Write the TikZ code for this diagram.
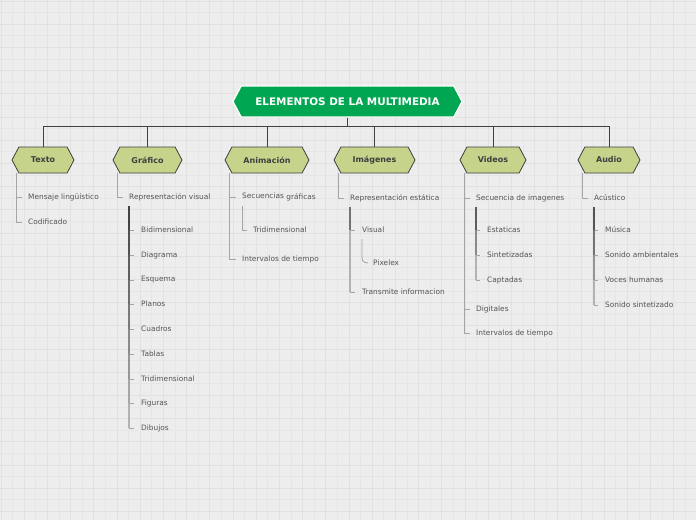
\documentclass[tikz,border=0pt]{standalone}
\usepackage{fontspec}
\setmainfont{DejaVu Sans}
\usetikzlibrary{shapes.symbols,calc}
\definecolor{bgcol}{RGB}{237,237,237}
\definecolor{minorcol}{RGB}{230,230,230}
\definecolor{majorcol}{RGB}{225,225,225}
\definecolor{rootcol}{RGB}{0,166,81}
\definecolor{leafcol}{RGB}{197,211,139}
\definecolor{edgecol}{RGB}{63,63,63}
\definecolor{labcol}{RGB}{85,85,85}
\definecolor{thincol}{RGB}{165,165,165}

% vertical bar of a sub list, fading downwards
\newcommand{\sublist}[3]{%
  \coordinate (#1top) at ($(#1.west)+(0,9)$);
  \foreach \lab [count=\k, remember=\lab as \prev (initially #1top)] in {#3}{
    \pgfmathtruncatemacro\tone{80-50*\k/#2}
    \draw[l2,draw=black!\tone] (#1top |- \prev) -- (#1top |- \lab.west);
    \draw[l1] (#1top |- \lab.west) -- ($(\lab.west)+(-7,0)$);
  }}

\begin{document}
\begin{tikzpicture}[x=1pt,y=-1pt,
  hexa/.style={shape=signal,signal to=east and west,signal pointer angle=124,
    inner sep=0pt,align=center},
  root/.style={hexa,fill=rootcol,draw=white,line width=1.2pt,text=white,
    font=\fontsize{10.4}{12}\bfseries,minimum width=229,minimum height=31},
  topic/.style={hexa,fill=leafcol,draw=edgecol,line width=0.8pt,text=edgecol,
    font=\fontsize{8}{10}\bfseries,minimum height=26},
  item/.style={anchor=west,inner sep=0pt,text=labcol,font=\fontsize{7.4}{9}\selectfont},
  rl/.style={draw=edgecol,line width=0.9pt},
  l1/.style={draw=thincol,line width=0.8pt},
  l2/.style={line width=1.4pt}]

\useasboundingbox (0,0) rectangle (696,520);

% background grid
\fill[bgcol] (0,0) rectangle (696,520);
\foreach \i in {0,...,59}{
  \pgfmathtruncatemacro\odd{mod(\i,2)}
  \ifnum\odd=0 \def\gc{majorcol}\else\def\gc{minorcol}\fi
  \draw[\gc,line width=0.9pt] (1+11.6*\i,0) -- (1+11.6*\i,520);
}
\foreach \j in {0,...,44}{
  \pgfmathtruncatemacro\odd{mod(\j,2)}
  \ifnum\odd=0 \def\gc{majorcol}\else\def\gc{minorcol}\fi
  \draw[\gc,line width=0.9pt] (0,1+11.6*\j) -- (696,1+11.6*\j);
}

% root and topics
\node[root] (root) at (347.5,101.5) {ELEMENTOS DE LA MULTIMEDIA};
\node[topic,minimum width=62] (texto) at (43,160) {Texto};
\node[topic,minimum width=69] (graf) at (147.5,160) {Gráfico};
\node[topic,minimum width=84] (anim) at (267,160) {Animación};
\node[topic,minimum width=81] (imag) at (374.5,160) {Imágenes};
\node[topic,minimum width=66] (vid) at (493,160) {Videos};
\node[topic,minimum width=62] (aud) at (609,160) {Audio};

\draw[rl] (root.south) -- ($(root.south)+(0,9)$) coordinate (hub);
\foreach \t in {texto,graf,anim,imag,vid,aud}
  \draw[rl] (hub) -| (\t.north);

% Texto
\node[item] (msj) at (28,197) {Mensaje lingüístico};
\node[item] (cod) at (28,222) {Codificado};
% Grafico
\node[item] (rv) at (129,197) {Representación visual};
\node[item] (bid) at (141,230) {Bidimensional};
\node[item] (dia) at (141,255) {Diagrama};
\node[item] (esq) at (141,280) {Esquema};
\node[item] (pla) at (141,304) {Planos};
\node[item] (cua) at (141,329) {Cuadros};
\node[item] (tab) at (141,354) {Tablas};
\node[item] (gtri) at (141,379) {Tridimensional};
\node[item] (fig) at (141,403) {Figuras};
\node[item] (dib) at (141,428) {Dibujos};
% Animacion
\node[item] (sec) at (242,197) {Secuencias \raisebox{-0.6pt}{gráficas}};
\node[item] (atri) at (253,230) {Tridimensional};
\node[item] (aint) at (242,259) {Intervalos de tiempo};
% Imagenes
\node[item] (rest) at (350,198) {Representación estática};
\node[item] (vis) at (362,230) {Visual};
\node[item] (pix) at (373,263) {Pixelex};
\node[item] (tra) at (362,292) {Transmite informacion};
% Videos
\node[item] (simg) at (476,198) {Secuencia de imagenes};
\node[item] (est) at (487,230) {Estaticas};
\node[item] (sint) at (487,255) {Sintetizadas};
\node[item] (capt) at (487,280) {Captadas};
\node[item] (dig) at (476,309) {Digitales};
\node[item] (vint) at (476,333) {Intervalos de tiempo};
% Audio
\node[item] (acu) at (594,198) {Acústico};
\node[item] (mus) at (605,230) {Música};
\node[item] (samb) at (605,255) {Sonido ambientales};
\node[item] (voc) at (605,280) {Voces humanas};
\node[item] (ssin) at (605,305) {Sonido sintetizado};

% first level branches
\foreach \t/\l in {texto/msj,texto/cod,graf/rv,anim/sec,anim/aint,imag/rest,
    vid/simg,vid/dig,vid/vint,aud/acu}
  \draw[l1] ($(\t.west |- \t.south)+(5,0)$) |- ($(\l.west)+(-6,0)$);

% second level branches
\sublist{rv}{9}{bid,dia,esq,pla,cua,tab,gtri,fig,dib}
\sublist{rest}{2}{vis,tra}
\sublist{simg}{3}{est,sint,capt}
\sublist{acu}{4}{mus,samb,voc,ssin}
\draw[l1] ($(sec.west)+(0,9)$) |- ($(atri.west)+(-6,0)$);

% third level
\draw[l1] ($(vis.west)+(0,9)$) -- ($(vis.west)+(0,22)$)
  .. controls ($(vis.west)+(0,32)$) .. ($(pix.west)+(-5,0)$);
\end{tikzpicture}
\end{document}
